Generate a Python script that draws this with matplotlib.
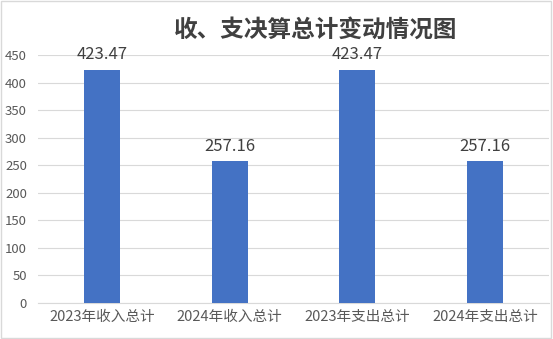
import matplotlib.pyplot as plt
from matplotlib.patches import Rectangle

plt.rcParams['font.family'] = ['Noto Sans CJK SC', 'DejaVu Sans']

categories = ['2023年收入总计', '2024年收入总计', '2023年支出总计', '2024年支出总计']
values = [423.47, 257.16, 423.47, 257.16]
labels = ['423.47', '257.16', '423.47', '257.16']
yticks = [0, 50, 100, 150, 200, 250, 300, 350, 400, 450]

fig = plt.figure(figsize=(5.53, 3.39), dpi=100)
ax = fig.add_axes([38 / 553, 1 - 303 / 339, 511 / 553, 248 / 339])

x = range(len(categories))
ax.bar(x, values, width=0.28, color='#4472c4', zorder=3)
for xi, v, lab in zip(x, values, labels):
    ax.text(xi, v + 12, lab, ha='center', va='bottom', fontsize=12, color='#404040')

ax.set_xlim(-0.5, len(categories) - 0.5)
ax.set_ylim(0, 450)
ax.set_yticks(yticks)
ax.set_xticks(list(x))
ax.set_xticklabels(categories, fontsize=10.5, color='#595959')
ax.tick_params(axis='y', labelsize=9.5, labelcolor='#595959', length=0, pad=8)
ax.tick_params(axis='x', length=0, pad=5)
ax.grid(axis='y', color='#d9d9d9', linewidth=0.8, zorder=0)
for s in ['top', 'right', 'left']:
    ax.spines[s].set_visible(False)
ax.spines['bottom'].set_color('#d9d9d9')

fig.text(0.57, 1 - 30 / 339, '收、支决算总计变动情况图', ha='center', va='center',
         fontsize=17, fontweight='bold', color='#404040')

fig.patches.append(Rectangle((0.002, 0.003), 0.995, 0.993, transform=fig.transFigure,
                             fill=False, edgecolor='#d9d9d9', linewidth=1))

fig.savefig('out.png', dpi=100)
